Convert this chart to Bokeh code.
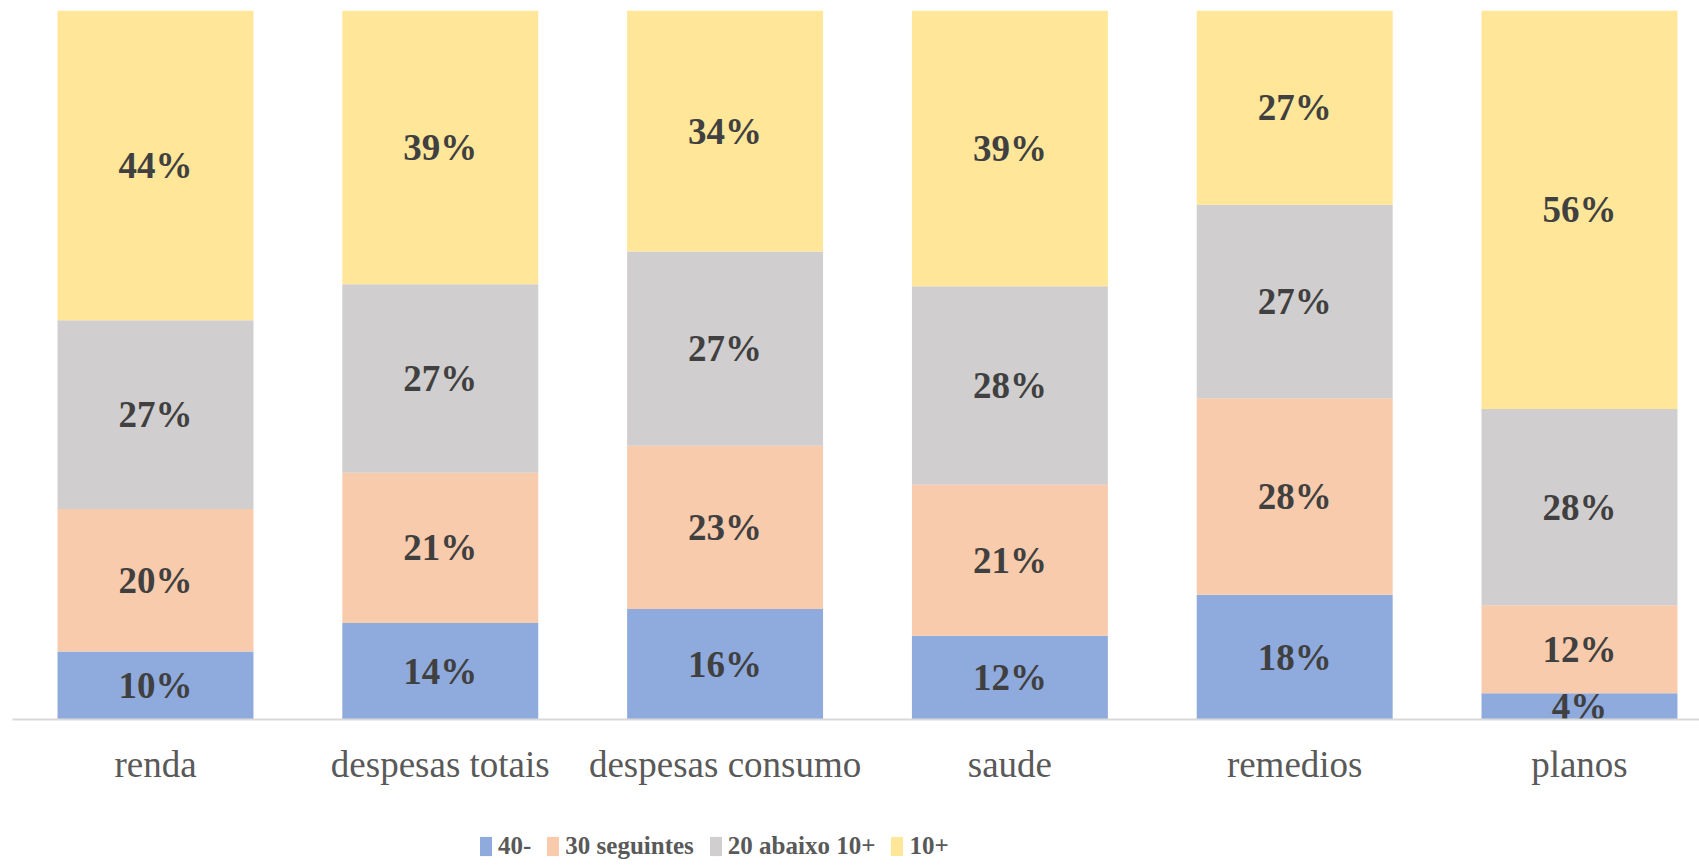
from bokeh.plotting import figure
from bokeh.layouts import column
from bokeh.models import ColumnDataSource, Range1d, FixedTicker, Legend, LegendItem
from bokeh.core.properties import value
from bokeh.embed import file_html
from bokeh.resources import INLINE

categories = ["renda", "despesas totais", "despesas consumo", "saude", "remedios", "planos"]
series_names = ["40-", "30 seguintes", "20 abaixo 10+", "10+"]
s_40_minus = [9.6, 13.6, 15.6, 11.8, 17.6, 3.7]
s_30_seguintes = [20.1, 21.2, 23.0, 21.3, 27.7, 12.4]
s_20_abaixo = [26.6, 26.6, 27.4, 28.0, 27.3, 27.7]
s_10_plus = [43.7, 38.6, 34.0, 38.9, 27.4, 56.2]
colors = ["#8FAADC", "#F8CBAD", "#D0CECE", "#FFE699"]

keys = ["a", "b", "c", "d"]
series = [s_40_minus, s_30_seguintes, s_20_abaixo, s_10_plus]
xs = list(range(len(categories)))

data = {"x": xs}
for k, s in zip(keys, series):
    data[k] = [v / 100.0 for v in s]
src = ColumnDataSource(data)

p = figure(width=1699, height=825, output_backend="svg", toolbar_location=None,
           x_range=Range1d(-0.5021, 5.4214), y_range=Range1d(0, 1.0),
           min_border_left=12, min_border_right=0, min_border_top=10, min_border_bottom=106)
p.outline_line_color = None
p.xgrid.visible = False
p.ygrid.visible = False
p.yaxis.visible = False
p.background_fill_color = "white"
p.border_fill_color = "white"

p.vbar_stack(keys, x="x", width=0.688, source=src, color=colors, line_color=None)

# data labels
lx, ly, lt = [], [], []
for i in xs:
    base = 0.0
    for s in series:
        v = s[i] / 100.0
        lx.append(i)
        ly.append(base + v / 2)
        lt.append(f"{s[i]:.0f}%")
        base += v
p.text(x=lx, y=ly, text=lt, text_align="center", text_baseline="middle",
       text_font=value("Liberation Serif"), text_font_style="bold",
       text_font_size="37px", text_color="#404040")

ax = p.xaxis[0]
ax.ticker = FixedTicker(ticks=xs)
ax.major_label_overrides = {i: c for i, c in enumerate(categories)}
ax.major_tick_line_color = None
ax.minor_tick_line_color = None
ax.axis_line_color = "#D9D9D9"
ax.axis_line_width = 2
ax.major_label_text_font = "Liberation Serif"
ax.major_label_text_font_size = "37px"
ax.major_label_text_color = "#595959"
ax.major_label_standoff = 18

# legend strip below the chart (legend renderers lie outside its visible range)
pl = figure(width=1699, height=40, output_backend="svg", toolbar_location=None,
            x_range=Range1d(0, 1), y_range=Range1d(0, 1),
            x_axis_location=None, y_axis_location=None,
            min_border_left=0, min_border_right=0, min_border_top=0, min_border_bottom=0)
pl.outline_line_color = None
pl.xgrid.visible = False
pl.ygrid.visible = False
pl.background_fill_color = "white"
pl.border_fill_color = "white"
legend_src = ColumnDataSource({"x": [-10.0], "top": [0.0]})
items = []
for name, c in zip(series_names, colors):
    r = pl.vbar(x="x", top="top", width=0.1, source=legend_src, color=c, line_color=None)
    items.append(LegendItem(label=name, renderers=[r]))

legend = Legend(items=items, orientation="horizontal", location=(466, 4),
                label_text_font="Liberation Serif", label_text_font_style="bold",
                label_text_font_size="25px", label_text_color="#595959",
                glyph_width=15, glyph_height=24, label_standoff=5, spacing=14,
                padding=0, margin=0, border_line_color=None, background_fill_alpha=0,
                label_height=30)
pl.add_layout(legend, "center")

layout = column(p, pl, spacing=0)
open("out.html", "w").write(file_html(layout, INLINE))
